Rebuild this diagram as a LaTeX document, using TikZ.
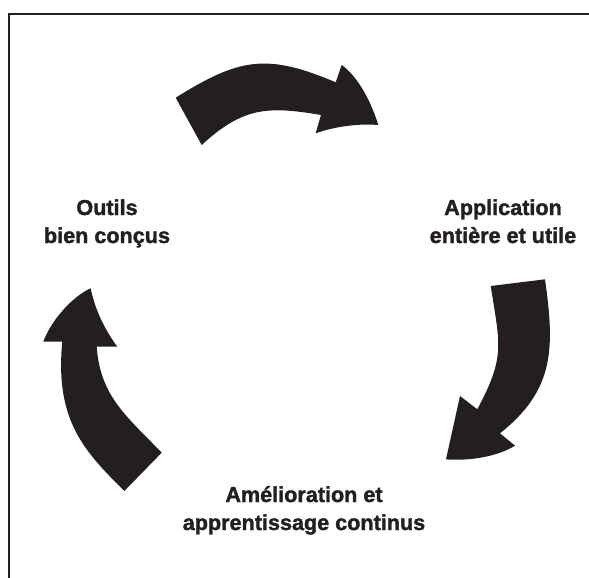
\documentclass[tikz,border=0pt]{standalone}
\usepackage{fontspec}
\setmainfont{Liberation Sans}
\newfontfamily\heavyfont{Liberation Sans Bold}[FakeBold=1.6]
\usepackage{xcolor}
\usetikzlibrary{positioning,calc}
\definecolor{inkblack}{RGB}{35,31,32}

\begin{document}
\begin{tikzpicture}[x=1pt, y=-1pt,
    cycletext/.style={align=center, inner sep=0pt, anchor=base, text=inkblack, font=\heavyfont\fontsize{21.6}{28}\selectfont},
    bigarrow/.style={fill=inkblack, draw=none}
]
    \useasboundingbox (0,0) rectangle (589,578);
    \draw[inkblack, line width=2pt] (9,578) -- (9,13.7) -- (589,13.7);

    \node[cycletext] (outils) at (107,243) {Outils\\bien conçus};
    \node[cycletext] (application) at (503,243) {Application\\entière et utile};
    \node[cycletext] (amelioration) at (304,530) {Amélioration et\\apprentissage continus};

    % outils -> application
    \fill[bigarrow] (175.7,97.7) .. controls (239.3,58) and (266.7,53) .. (335.7,82.3)
        -- (341.7,65) .. controls (356,75) and (370,98) .. (378.3,125)
        .. controls (355,123) and (330,128) .. (315.7,133.3)
        -- (321,115) .. controls (266.8,105.7) and (242.4,107.6) .. (201.7,145) -- cycle;

    % application -> amelioration
    \fill[bigarrow] (490.7,286) -- (545,279.3)
        .. controls (554.8,348.6) and (554.6,389.9) .. (500,433.3)
        -- (515,445.7) .. controls (495,458) and (465,461) .. (446,459.3)
        -- (460,396) -- (477.3,409.3)
        .. controls (505.5,356.5) and (500,345.3) .. (490.7,286) -- cycle;

    % amelioration -> outils
    \fill[bigarrow] (90.7,288.3) .. controls (75,295) and (52,318) .. (43.3,341.7)
        -- (62.3,341.7) .. controls (54.5,421.3) and (85.4,452.1) .. (124.3,491)
        -- (161.7,452.7) .. controls (127.2,416.7) and (100.2,396.6) .. (96.7,346.7)
        -- (117.3,346.7) .. controls (105,330) and (95,310) .. (90.7,288.3) -- cycle;
\end{tikzpicture}
\end{document}
